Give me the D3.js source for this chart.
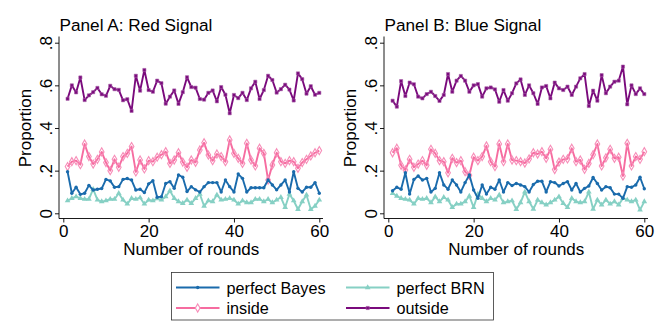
<!DOCTYPE html>
<html><head><meta charset="utf-8">
<script src="https://cdn.jsdelivr.net/npm/d3@7"></script>
<style>
html,body{margin:0;padding:0;background:#fff;}
svg{display:block;font-family:"Liberation Sans",Arial,Helvetica,sans-serif;}
</style></head>
<body>
<svg id="chart" width="664" height="332"></svg>
<script>
const rounds = d3.range(1, 61);
const yTicks = [0, 0.2, 0.4, 0.6, 0.8];
const yTickLabels = ["0", ".2", ".4", ".6", ".8"];
const xTicks = [0, 20, 40, 60];
const panelTitles = ["Panel A: Red Signal", "Panel B: Blue Signal"];
const seriesNames = ["perfect Bayes", "perfect BRN", "inside", "outside"];

const aBayes = [0.195,0.094,0.122,0.089,0.094,0.131,0.109,0.113,0.116,0.159,0.152,0.122,0.125,0.159,0.163,0.156,0.109,0.113,0.097,0.138,0.153,0.075,0.078,0.14,0.148,0.117,0.18,0.169,0.102,0.125,
0.11,0.1,0.125,0.144,0.144,0.144,0.1,0.156,0.125,0.1,0.184,0.164,0.1,0.12,0.12,0.12,0.12,0.156,0.133,0.11,0.133,0.156,0.1,0.195,0.117,0.1,0.122,0.122,0.144,0.094];
const aBRN = [0.059,0.07,0.078,0.07,0.066,0.066,0.113,0.0625,0.055,0.059,0.066,0.066,0.094,0.0625,0.044,0.07,0.066,0.073,0.044,0.0625,0.059,0.069,0.0625,0.078,0.106,0.07,0.055,0.047,0.0625,0.047,
0.07,0.09,0.034,0.059,0.055,0.086,0.0625,0.066,0.07,0.0625,0.044,0.059,0.05,0.05,0.066,0.066,0.055,0.066,0.05,0.0625,0.075,0.028,0.09,0.059,0.019,0.055,0.086,0.019,0.034,0.0625];
const aInside = [0.219,0.242,0.247,0.228,0.325,0.266,0.231,0.253,0.288,0.238,0.2,0.253,0.216,0.266,0.281,0.313,0.194,0.25,0.208,0.247,0.242,0.263,0.275,0.289,0.234,0.25,0.284,0.24,0.216,0.25,
0.239,0.297,0.331,0.273,0.247,0.278,0.266,0.242,0.344,0.281,0.258,0.234,0.328,0.25,0.222,0.305,0.281,0.156,0.227,0.284,0.242,0.234,0.247,0.242,0.211,0.238,0.253,0.269,0.284,0.294];
const aOutside = [0.537,0.60,0.567,0.637,0.531,0.553,0.568,0.588,0.558,0.551,0.598,0.582,0.579,0.53,0.535,0.48,0.645,0.575,0.672,0.578,0.57,0.622,0.61,0.514,0.547,0.576,0.513,0.568,0.638,0.592,
0.589,0.536,0.533,0.565,0.576,0.525,0.592,0.556,0.469,0.555,0.54,0.565,0.531,0.586,0.617,0.536,0.578,0.645,0.625,0.566,0.582,0.603,0.58,0.529,0.656,0.629,0.561,0.596,0.556,0.565];

const bBayes = [0.106,0.122,0.113,0.19,0.09,0.159,0.175,0.156,0.164,0.1,0.117,0.19,0.133,0.113,0.156,0.133,0.1,0.144,0.18,0.109,0.07,0.133,0.09,0.122,0.113,0.156,0.1,0.144,0.13,0.14,
0.133,0.125,0.1,0.135,0.15,0.15,0.1,0.148,0.144,0.128,0.14,0.148,0.109,0.14,0.1,0.117,0.128,0.168,0.14,0.109,0.125,0.12,0.09,0.09,0.07,0.125,0.122,0.133,0.169,0.115];
const bBRN = [0.094,0.081,0.07,0.066,0.0625,0.044,0.07,0.066,0.07,0.05,0.078,0.055,0.075,0.0625,0.028,0.044,0.044,0.055,0.081,0.028,0.09,0.07,0.055,0.07,0.0625,0.086,0.05,0.055,0.059,0.019,
0.05,0.1,0.055,0.02,0.0625,0.05,0.04,0.05,0.0625,0.078,0.047,0.028,0.07,0.055,0.05,0.055,0.1,0.02,0.0625,0.04,0.0625,0.044,0.055,0.04,0.07,0.0625,0.055,0.0625,0.016,0.055];
const bInside = [0.284,0.305,0.225,0.203,0.253,0.216,0.231,0.247,0.225,0.3,0.281,0.247,0.242,0.19,0.258,0.238,0.247,0.195,0.178,0.263,0.247,0.266,0.316,0.242,0.219,0.325,0.242,0.325,0.25,0.247,
0.242,0.236,0.255,0.284,0.278,0.289,0.258,0.3,0.205,0.24,0.253,0.255,0.305,0.242,0.25,0.206,0.234,0.275,0.325,0.222,0.26,0.3,0.258,0.263,0.175,0.328,0.222,0.266,0.253,0.289];
const bOutside = [0.528,0.5,0.62,0.55,0.613,0.605,0.547,0.539,0.559,0.57,0.55,0.527,0.555,0.653,0.57,0.622,0.644,0.622,0.57,0.6,0.606,0.547,0.586,0.59,0.581,0.523,0.578,0.528,0.563,0.609,
0.628,0.555,0.6,0.563,0.513,0.59,0.597,0.539,0.613,0.586,0.578,0.594,0.555,0.594,0.633,0.653,0.503,0.575,0.528,0.648,0.563,0.594,0.617,0.622,0.688,0.511,0.6,0.559,0.586,0.559];

const panelData = [[aBayes, aBRN, aInside, aOutside], [bBayes, bBRN, bInside, bOutside]];

const colors = ["#1a6bac", "#86d0c4", "#f66ca0", "#7a0a7c"];
const markerFill = ["#1a6bac", "#86d0c4", "none", "#7a0a7c"];
const markerStroke = ["none", "none", "#f78db8", "#a860a8"];
const symbols = [d3.symbolCircle, d3.symbolTriangle, d3.symbolDiamond, d3.symbolSquare];
const symSizes = [9, 14, 19, 10];

const svg = d3.select("#chart");
const FS_TICK = 17, FS_TITLE = 17.2, FS_AXT = 17;

function drawPanel(p, dx) {
  const g = svg.append("g").attr("transform", `translate(${dx},0)`);
  const x = d3.scaleLinear().domain([0, 60]).range([63.3, 319.3]);
  const y = d3.scaleLinear().domain([0, 0.8]).range([213.3, 42.7]);

  g.append("text").attr("x", 59.5).attr("y", 30.8).attr("font-size", FS_TITLE)
    .attr("fill", "#000").text(panelTitles[p]);

  g.append("line").attr("x1", 59).attr("x2", 59).attr("y1", 36.5).attr("y2", 218.5)
    .attr("stroke", "#000").attr("stroke-width", 0.9);
  g.append("line").attr("x1", 59).attr("x2", 323).attr("y1", 218.5).attr("y2", 218.5)
    .attr("stroke", "#000").attr("stroke-width", 0.9);

  const ya = g.append("g").attr("transform", "translate(59,0)")
    .call(d3.axisLeft(y).tickValues(yTicks).tickFormat((d, i) => yTickLabels[i]).tickSize(4).tickSizeOuter(0));
  ya.select(".domain").remove();
  ya.selectAll(".tick line").attr("stroke", "#000").attr("stroke-width", 0.9);
  ya.selectAll(".tick text").attr("font-size", FS_TICK).attr("font-family", "Liberation Sans, Arial, sans-serif")
    .attr("fill", "#000").attr("text-anchor", "middle").attr("x", null).attr("dy", null)
    .attr("transform", "translate(-7.5,0) rotate(-90)");

  const xa = g.append("g").attr("transform", "translate(0,218.5)")
    .call(d3.axisBottom(x).tickValues(xTicks).tickFormat(d3.format("d")).tickSize(4).tickSizeOuter(0));
  xa.select(".domain").remove();
  xa.selectAll(".tick line").attr("stroke", "#000").attr("stroke-width", 0.9);
  xa.selectAll(".tick text").attr("font-size", FS_TICK).attr("font-family", "Liberation Sans, Arial, sans-serif")
    .attr("fill", "#000").attr("dy", null).attr("y", 18.8);

  g.append("text").attr("transform", "translate(30.5,128) rotate(-90)")
    .attr("text-anchor", "middle").attr("font-size", FS_AXT).text("Proportion");
  g.append("text").attr("x", 191.3).attr("y", 254.8).attr("text-anchor", "middle")
    .attr("font-size", FS_AXT).text("Number of rounds");

  const order = [3, 2, 1, 0];
  order.forEach(s => {
    const vals = panelData[p][s];
    const pts = rounds.map((r, i) => [r, vals[i]]);
    const line = d3.line().x(d => x(d[0])).y(d => y(d[1]));
    g.append("path").datum(pts).attr("d", line).attr("fill", "none")
      .attr("stroke", colors[s]).attr("stroke-width", 1.9).attr("stroke-linejoin", "round");
    const sym = d3.symbol().type(symbols[s]).size(symSizes[s]);
    g.append("g").selectAll("path").data(pts).join("path")
      .attr("transform", d => `translate(${x(d[0])},${y(d[1])})`)
      .attr("d", sym).attr("fill", markerFill[s]).attr("stroke", markerStroke[s])
      .attr("stroke-width", s === 2 ? 1.1 : 0.6);
  });
}

drawPanel(0, 0);
drawPanel(1, 325);

const lg = svg.append("g");
lg.append("rect").attr("x", 171.5).attr("y", 272.5).attr("width", 322).attr("height", 47.5)
  .attr("fill", "#fff").attr("stroke", "#333").attr("stroke-width", 0.8);
const legPos = [[176, 287.5], [346, 287.5], [176, 308], [346, 308]];
seriesNames.forEach((name, s) => {
  const [lx, ly] = legPos[s];
  lg.append("line").attr("x1", lx).attr("x2", lx + 43.5).attr("y1", ly).attr("y2", ly)
    .attr("stroke", colors[s]).attr("stroke-width", 1.9);
  lg.append("path").attr("transform", `translate(${lx + 21.7},${ly})`)
    .attr("d", d3.symbol().type(symbols[s]).size(symSizes[s])())
    .attr("fill", markerFill[s] === "none" ? "#fff" : markerFill[s])
    .attr("stroke", markerStroke[s]).attr("stroke-width", s === 2 ? 1.1 : 0.6);
  lg.append("text").attr("x", lx + 50.5).attr("y", ly + 6).attr("font-size", 16.2).text(name);
});
</script>
</body></html>
